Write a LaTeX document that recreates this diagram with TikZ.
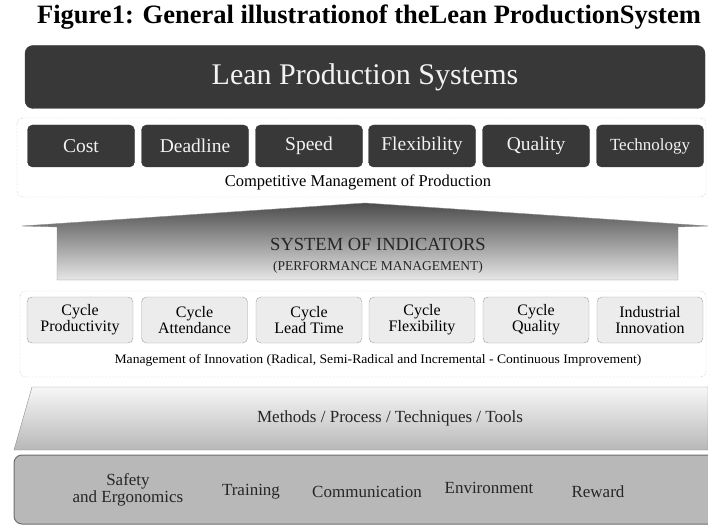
\documentclass[tikz,border=0pt]{standalone}
\usepackage{fontspec}
\setmainfont{Liberation Serif}
\definecolor{boxdark}{HTML}{383838}
\definecolor{boxtext}{HTML}{F2F2F2}
\definecolor{dotline}{HTML}{A8A8A8}
\definecolor{cyclefill}{HTML}{ECECEC}
\definecolor{cycleline}{HTML}{A0A0A0}
\definecolor{basefill}{HTML}{B8B8B8}
\definecolor{baseline}{HTML}{6E6E6E}
\tikzset{
  darkbox/.style={draw=boxdark, fill=boxdark, rounded corners=5pt, minimum width=107pt,
    minimum height=42pt, text=boxtext, font=\fontsize{19.5}{20}\selectfont, inner sep=0pt},
  cyclebox/.style={draw=cycleline, fill=cyclefill, rounded corners=5pt, minimum width=106pt,
    minimum height=46pt, align=center, font=\fontsize{16}{16}\selectfont, inner sep=0pt},
  holder/.style={draw=dotline, densely dotted, rounded corners=6pt},
  basetext/.style={align=center, font=\fontsize{17}{15}\selectfont, text=black!85}
}
\begin{document}
\begin{tikzpicture}[x=1pt, y=-1pt]
  \useasboundingbox (0,0) rectangle (708,526);
  % title
  \node[font=\bfseries\fontsize{26.5}{28}\selectfont] (title) at (369,17) {Figure1: General illustrationof theLean ProductionSystem};
  % top block
  \node[darkbox, minimum width=680pt, minimum height=63pt, rounded corners=8pt,
    font=\fontsize{30}{31}\selectfont] (lps) at (365,77) {Lean Production Systems};
  % competitive management
  \draw[holder] (17,118) rectangle (706,197);
  \node[darkbox] (cost) at (81,146) {Cost};
  \node[darkbox] (deadline) at (195,146) {Deadline};
  \node[darkbox] (speed) at (309,146) {Speed};
  \node[darkbox] (flex) at (422,146) {Flexibility};
  \node[darkbox] (quality) at (536,146) {Quality};
  \node[darkbox, font=\fontsize{17}{18}\selectfont] (tech) at (650,146) {Technology};
  \node[font=\fontsize{16.5}{17}\selectfont] (cmp) at (358,182) {Competitive Management of Production};
  % indicators (roof + body)
  \shade[top color=black!70, bottom color=black!10, draw=black!45]
    (22,226) -- (365,203) -- (708,226) -- (678,227) -- (678,280) -- (57,280) -- (57,227) -- cycle;
  \node[font=\fontsize{18.5}{19}\selectfont, text=black!85] (indic) at (378,244) {SYSTEM OF INDICATORS};
  \node[font=\fontsize{13.5}{14}\selectfont, text=black!85] (perf) at (378,267) {(PERFORMANCE MANAGEMENT)};
  % innovation cycles
  \draw[holder] (20,291) rectangle (706,377);
  \node[cyclebox] (cprod) at (80,320) {Cycle\\Productivity};
  \node[cyclebox] (catt) at (194.5,320) {Cycle\\Attendance};
  \node[cyclebox] (clead) at (309,320) {Cycle\\Lead Time};
  \node[cyclebox] (cflex) at (422,320) {Cycle\\Flexibility};
  \node[cyclebox] (cqual) at (536,320) {Cycle\\Quality};
  \node[cyclebox] (innov) at (650,320) {Industrial\\Innovation};
  \node[font=\fontsize{13}{14}\selectfont, xscale=1.05] (moi) at (378,360)
    {Management of Innovation (Radical, Semi-Radical and Incremental - Continuous Improvement)};
  % methods
  \shade[top color=black!3, bottom color=black!28, draw=black!45]
    (32,387) -- (708,387) -- (708,450) -- (14,450) -- cycle;
  \node[font=\fontsize{17}{18}\selectfont, text=black!85] (methods) at (390,418) {Methods / Process / Techniques / Tools};
  % base
  \draw[fill=basefill, draw=baseline, line width=1pt, rounded corners=8pt] (14,455) rectangle (716,524);
  \node[basetext] (safety) at (128,490) {Safety\\and Ergonomics};
  \node[basetext] (training) at (251,492) {Training};
  \node[basetext] (comm) at (367,492) {Communication};
  \node[basetext] (env) at (489,488) {Environment};
  \node[basetext] (reward) at (598,492) {Reward};
\end{tikzpicture}
\end{document}
